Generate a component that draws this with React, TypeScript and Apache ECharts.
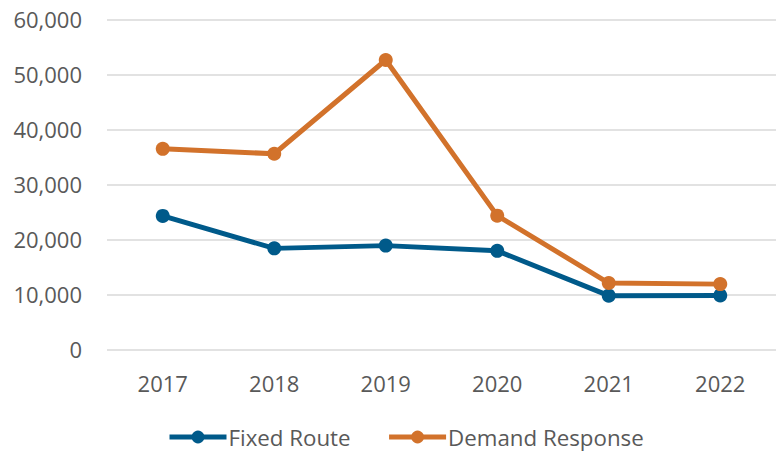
import React, { useEffect, useRef } from "react";
import * as echarts from "echarts";

const years = ["2017", "2018", "2019", "2020", "2021", "2022"];
const fixedRoute = [24250, 18350, 18850, 17900, 9750, 9800];
const demandResponse = [36450, 35550, 52600, 24300, 12050, 11850];
const yTicks = { min: 0, max: 60000, interval: 10000 };

const FONT = "'Open Sans', 'Noto Sans', sans-serif";

export default function App() {
  const ref = useRef<HTMLDivElement>(null);
  useEffect(() => {
    if (!ref.current) return;
    const chart = echarts.init(ref.current, null, { renderer: "svg" });
    chart.setOption({
      animation: false,
      grid: { left: 107, right: -7, top: 19.3, bottom: 103.7, containLabel: false },
      legend: {
        bottom: 0,
        left: 162,
        itemWidth: 57,
        itemHeight: 16,
        itemGap: 36,
        lineStyle: { width: 5 },
        textStyle: { color: "#595959", fontSize: 22.3, fontFamily: FONT, padding: [0, 0, 0, -3] },
        data: ["Fixed Route", "Demand Response"],
      },
      xAxis: {
        type: "category",
        data: years,
        boundaryGap: true,
        axisLine: { show: false },
        axisTick: { show: false },
        axisLabel: { color: "#595959", fontSize: 22, fontFamily: FONT, margin: 23 },
        splitLine: { show: false },
      },
      yAxis: {
        type: "value",
        min: yTicks.min,
        max: yTicks.max,
        interval: yTicks.interval,
        axisLine: { show: false },
        axisTick: { show: false },
        axisLabel: {
          color: "#595959",
          fontSize: 22,
          fontFamily: FONT,
          margin: 25,
          formatter: (v: number) => v.toLocaleString("en-US"),
        },
        splitLine: { lineStyle: { color: "#D9D9D9", width: 1.5 } },
      },
      series: [
        {
          name: "Fixed Route",
          type: "line",
          data: fixedRoute,
          symbol: "circle",
          symbolSize: 14,
          lineStyle: { color: "#005A8A", width: 5 },
          itemStyle: { color: "#005A8A" },
        },
        {
          name: "Demand Response",
          type: "line",
          data: demandResponse,
          symbol: "circle",
          symbolSize: 14,
          lineStyle: { color: "#D2722B", width: 5 },
          itemStyle: { color: "#D2722B" },
        },
      ],
    });
    return () => chart.dispose();
  }, []);
  return (
    <div
      ref={ref}
      style={{ position: "fixed", left: 0, top: 0, width: 776, height: 453, background: "#fff" }}
    />
  );
}
